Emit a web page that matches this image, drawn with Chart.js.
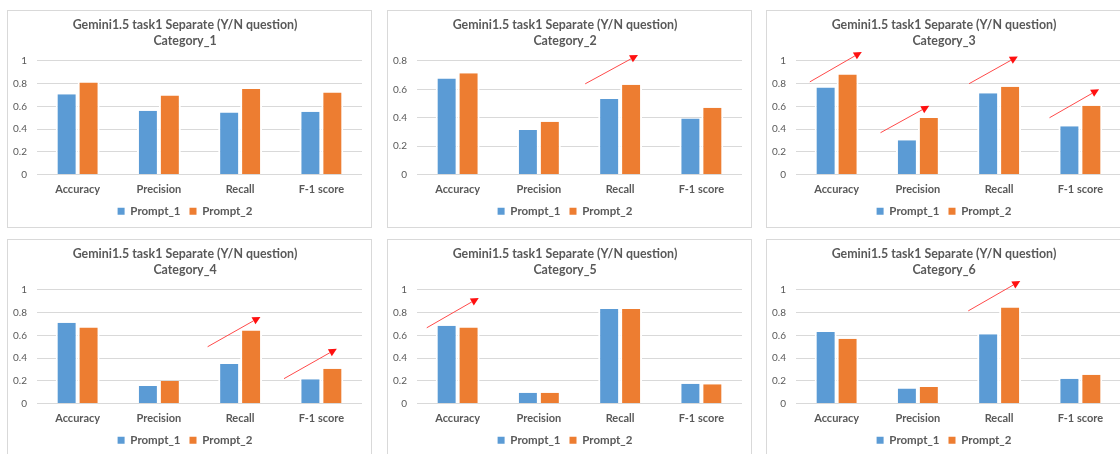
<!DOCTYPE html>
<html>
<head>
<meta charset="utf-8">
<script src="https://cdn.jsdelivr.net/npm/chart.js@4.4.1/dist/chart.umd.min.js"></script>
<style>
  html, body { margin: 0; padding: 0; background: #fff; width: 1120px; height: 454px; overflow: hidden; }
  .panel { position: absolute; width: 363px; height: 216px; border: 1px solid #d9d9d9; background: #fff; }
  .panel canvas { display: block; }
</style>
</head>
<body>
<div class="panel" style="left:7px;top:10px"><canvas id="c1" width="363" height="216"></canvas></div>
<div class="panel" style="left:387px;top:10px"><canvas id="c2" width="363" height="216"></canvas></div>
<div class="panel" style="left:766px;top:10px"><canvas id="c3" width="363" height="216"></canvas></div>
<div class="panel" style="left:7px;top:239px"><canvas id="c4" width="363" height="216"></canvas></div>
<div class="panel" style="left:387px;top:239px"><canvas id="c5" width="363" height="216"></canvas></div>
<div class="panel" style="left:766px;top:239px"><canvas id="c6" width="363" height="216"></canvas></div>
<script>
// Metrics on the x axis
const metrics = ['Accuracy', 'Precision', 'Recall', 'F-1 score'];
const seriesNames = ['Prompt_1', 'Prompt_2'];
const chartTitle = 'Gemini1.5 task1 Separate (Y/N question)';
const categoryNames = ['Category_1', 'Category_2', 'Category_3', 'Category_4', 'Category_5', 'Category_6'];

// Scores per category: [Accuracy, Precision, Recall, F-1 score]
const cat1Prompt1 = [0.708, 0.561, 0.547, 0.553];
const cat1Prompt2 = [0.810, 0.696, 0.754, 0.722];
const cat2Prompt1 = [0.676, 0.313, 0.533, 0.395];
const cat2Prompt2 = [0.713, 0.372, 0.632, 0.470];
const cat3Prompt1 = [0.766, 0.301, 0.716, 0.424];
const cat3Prompt2 = [0.880, 0.497, 0.772, 0.605];
const cat4Prompt1 = [0.711, 0.155, 0.348, 0.213];
const cat4Prompt2 = [0.670, 0.199, 0.643, 0.307];
const cat5Prompt1 = [0.684, 0.094, 0.833, 0.175];
const cat5Prompt2 = [0.670, 0.094, 0.833, 0.170];
const cat6Prompt1 = [0.629, 0.132, 0.611, 0.219];
const cat6Prompt2 = [0.570, 0.146, 0.845, 0.254];

// Upper bound of each value axis
const axisMax = [1, 0.8, 1, 1, 1, 1];

// Red trend arrows: [metric index, start offset (category widths), start value, tip offset, tip value]
const arrows1 = [];
const arrows2 = [[2, -0.43, 0.639, 0.22, 0.842]];
const arrows3 = [[0, -0.33, 0.816, 0.31, 1.08], [1, -0.46, 0.368, 0.14, 0.605], [2, -0.37, 0.80, 0.23, 1.04], [3, -0.38, 0.50, 0.23, 0.75]];
const arrows4 = [[2, -0.40, 0.50, 0.25, 0.763], [3, -0.46, 0.219, 0.19, 0.482]];
const arrows5 = [[0, -0.38, 0.667, 0.26, 0.93]];
const arrows6 = [[2, -0.38, 0.816, 0.26, 1.079]];

const BLUE = '#5b9bd5';
const ORANGE = '#ed7d31';
const GREY_TEXT = '#595959';
const GRID = '#d9d9d9';
const FONT = 'Lato, "Open Sans", sans-serif';

const trendArrows = {
  id: 'trendArrows',
  afterDatasetsDraw(chart, args, opts) {
    const items = opts.items || [];
    const xs = chart.scales.x, ys = chart.scales.y;
    const catW = xs.getPixelForValue(1) - xs.getPixelForValue(0);
    const ctx = chart.ctx;
    ctx.save();
    items.forEach(([idx, f0, v0, f1, v1]) => {
      const cx = xs.getPixelForValue(idx);
      const x0 = cx + f0 * catW, y0 = ys.getPixelForValue(v0);
      const x1 = cx + f1 * catW, y1 = ys.getPixelForValue(v1);
      const ang = Math.atan2(y1 - y0, x1 - x0);
      const headL = 8, headW = 4;
      const bx = x1 - headL * Math.cos(ang), by = y1 - headL * Math.sin(ang);
      ctx.strokeStyle = '#ff4a4a';
      ctx.lineWidth = 1;
      ctx.beginPath();
      ctx.moveTo(x0, y0);
      ctx.lineTo(bx, by);
      ctx.stroke();
      ctx.fillStyle = '#ff1010';
      ctx.beginPath();
      ctx.moveTo(x1, y1);
      ctx.lineTo(bx + headW * Math.sin(ang), by - headW * Math.cos(ang));
      ctx.lineTo(bx - headW * Math.sin(ang), by + headW * Math.cos(ang));
      ctx.closePath();
      ctx.fill();
    });
    ctx.restore();
  }
};

function makeChart(canvasId, catName, p1, p2, yMax, arrowList) {
  const mkSet = (label, data, color) => ({
    label, data,
    backgroundColor: color,
    borderColor: '#ffffff',
    borderWidth: { left: 2, right: 2, top: 0, bottom: 0 },
    borderSkipped: false,
    categoryPercentage: 0.54,
    barPercentage: 1
  });
  return new Chart(document.getElementById(canvasId), {
    type: 'bar',
    data: {
      labels: metrics,
      datasets: [mkSet(seriesNames[0], p1, BLUE), mkSet(seriesNames[1], p2, ORANGE)]
    },
    plugins: [trendArrows],
    options: {
      responsive: false,
      animation: false,
      layout: { padding: { left: 0, right: 9, top: 0, bottom: 0 } },
      scales: {
        x: {
          grid: { display: false, drawTicks: false },
          border: { display: false },
          ticks: { color: GREY_TEXT, font: { family: FONT, size: 11, weight: 'bold' }, padding: 8, maxRotation: 0 },
          afterFit(s) { s.height = 22; }
        },
        y: {
          min: 0, max: yMax,
          grid: { color: GRID, lineWidth: 1, drawTicks: false },
          border: { display: false },
          ticks: {
            stepSize: 0.2, padding: 10, color: GREY_TEXT,
            font: { family: FONT, size: 10 },
            callback: v => String(Number(v.toFixed(1)))
          },
          afterFit(s) { s.width = 29; }
        }
      },
      plugins: {
        title: {
          display: true,
          text: [chartTitle, catName],
          color: GREY_TEXT,
          font: { family: FONT, size: 12.4, weight: 'bold', lineHeight: 1.29 },
          padding: { top: 6, bottom: 12 }
        },
        legend: {
          position: 'bottom',
          labels: {
            boxWidth: 7, boxHeight: 7, padding: 9,
            color: GREY_TEXT,
            font: { family: FONT, size: 11.5, weight: 'bold' },
            generateLabels(chart) {
              const items = Chart.defaults.plugins.legend.labels.generateLabels(chart);
              items.forEach(it => { it.lineWidth = 0; it.strokeStyle = it.fillStyle; });
              return items;
            }
          }
        },
        tooltip: { enabled: false },
        trendArrows: { items: arrowList }
      }
    }
  });
}

makeChart('c1', categoryNames[0], cat1Prompt1, cat1Prompt2, axisMax[0], arrows1);
makeChart('c2', categoryNames[1], cat2Prompt1, cat2Prompt2, axisMax[1], arrows2);
makeChart('c3', categoryNames[2], cat3Prompt1, cat3Prompt2, axisMax[2], arrows3);
makeChart('c4', categoryNames[3], cat4Prompt1, cat4Prompt2, axisMax[3], arrows4);
makeChart('c5', categoryNames[4], cat5Prompt1, cat5Prompt2, axisMax[4], arrows5);
makeChart('c6', categoryNames[5], cat6Prompt1, cat6Prompt2, axisMax[5], arrows6);
</script>
</body>
</html>
